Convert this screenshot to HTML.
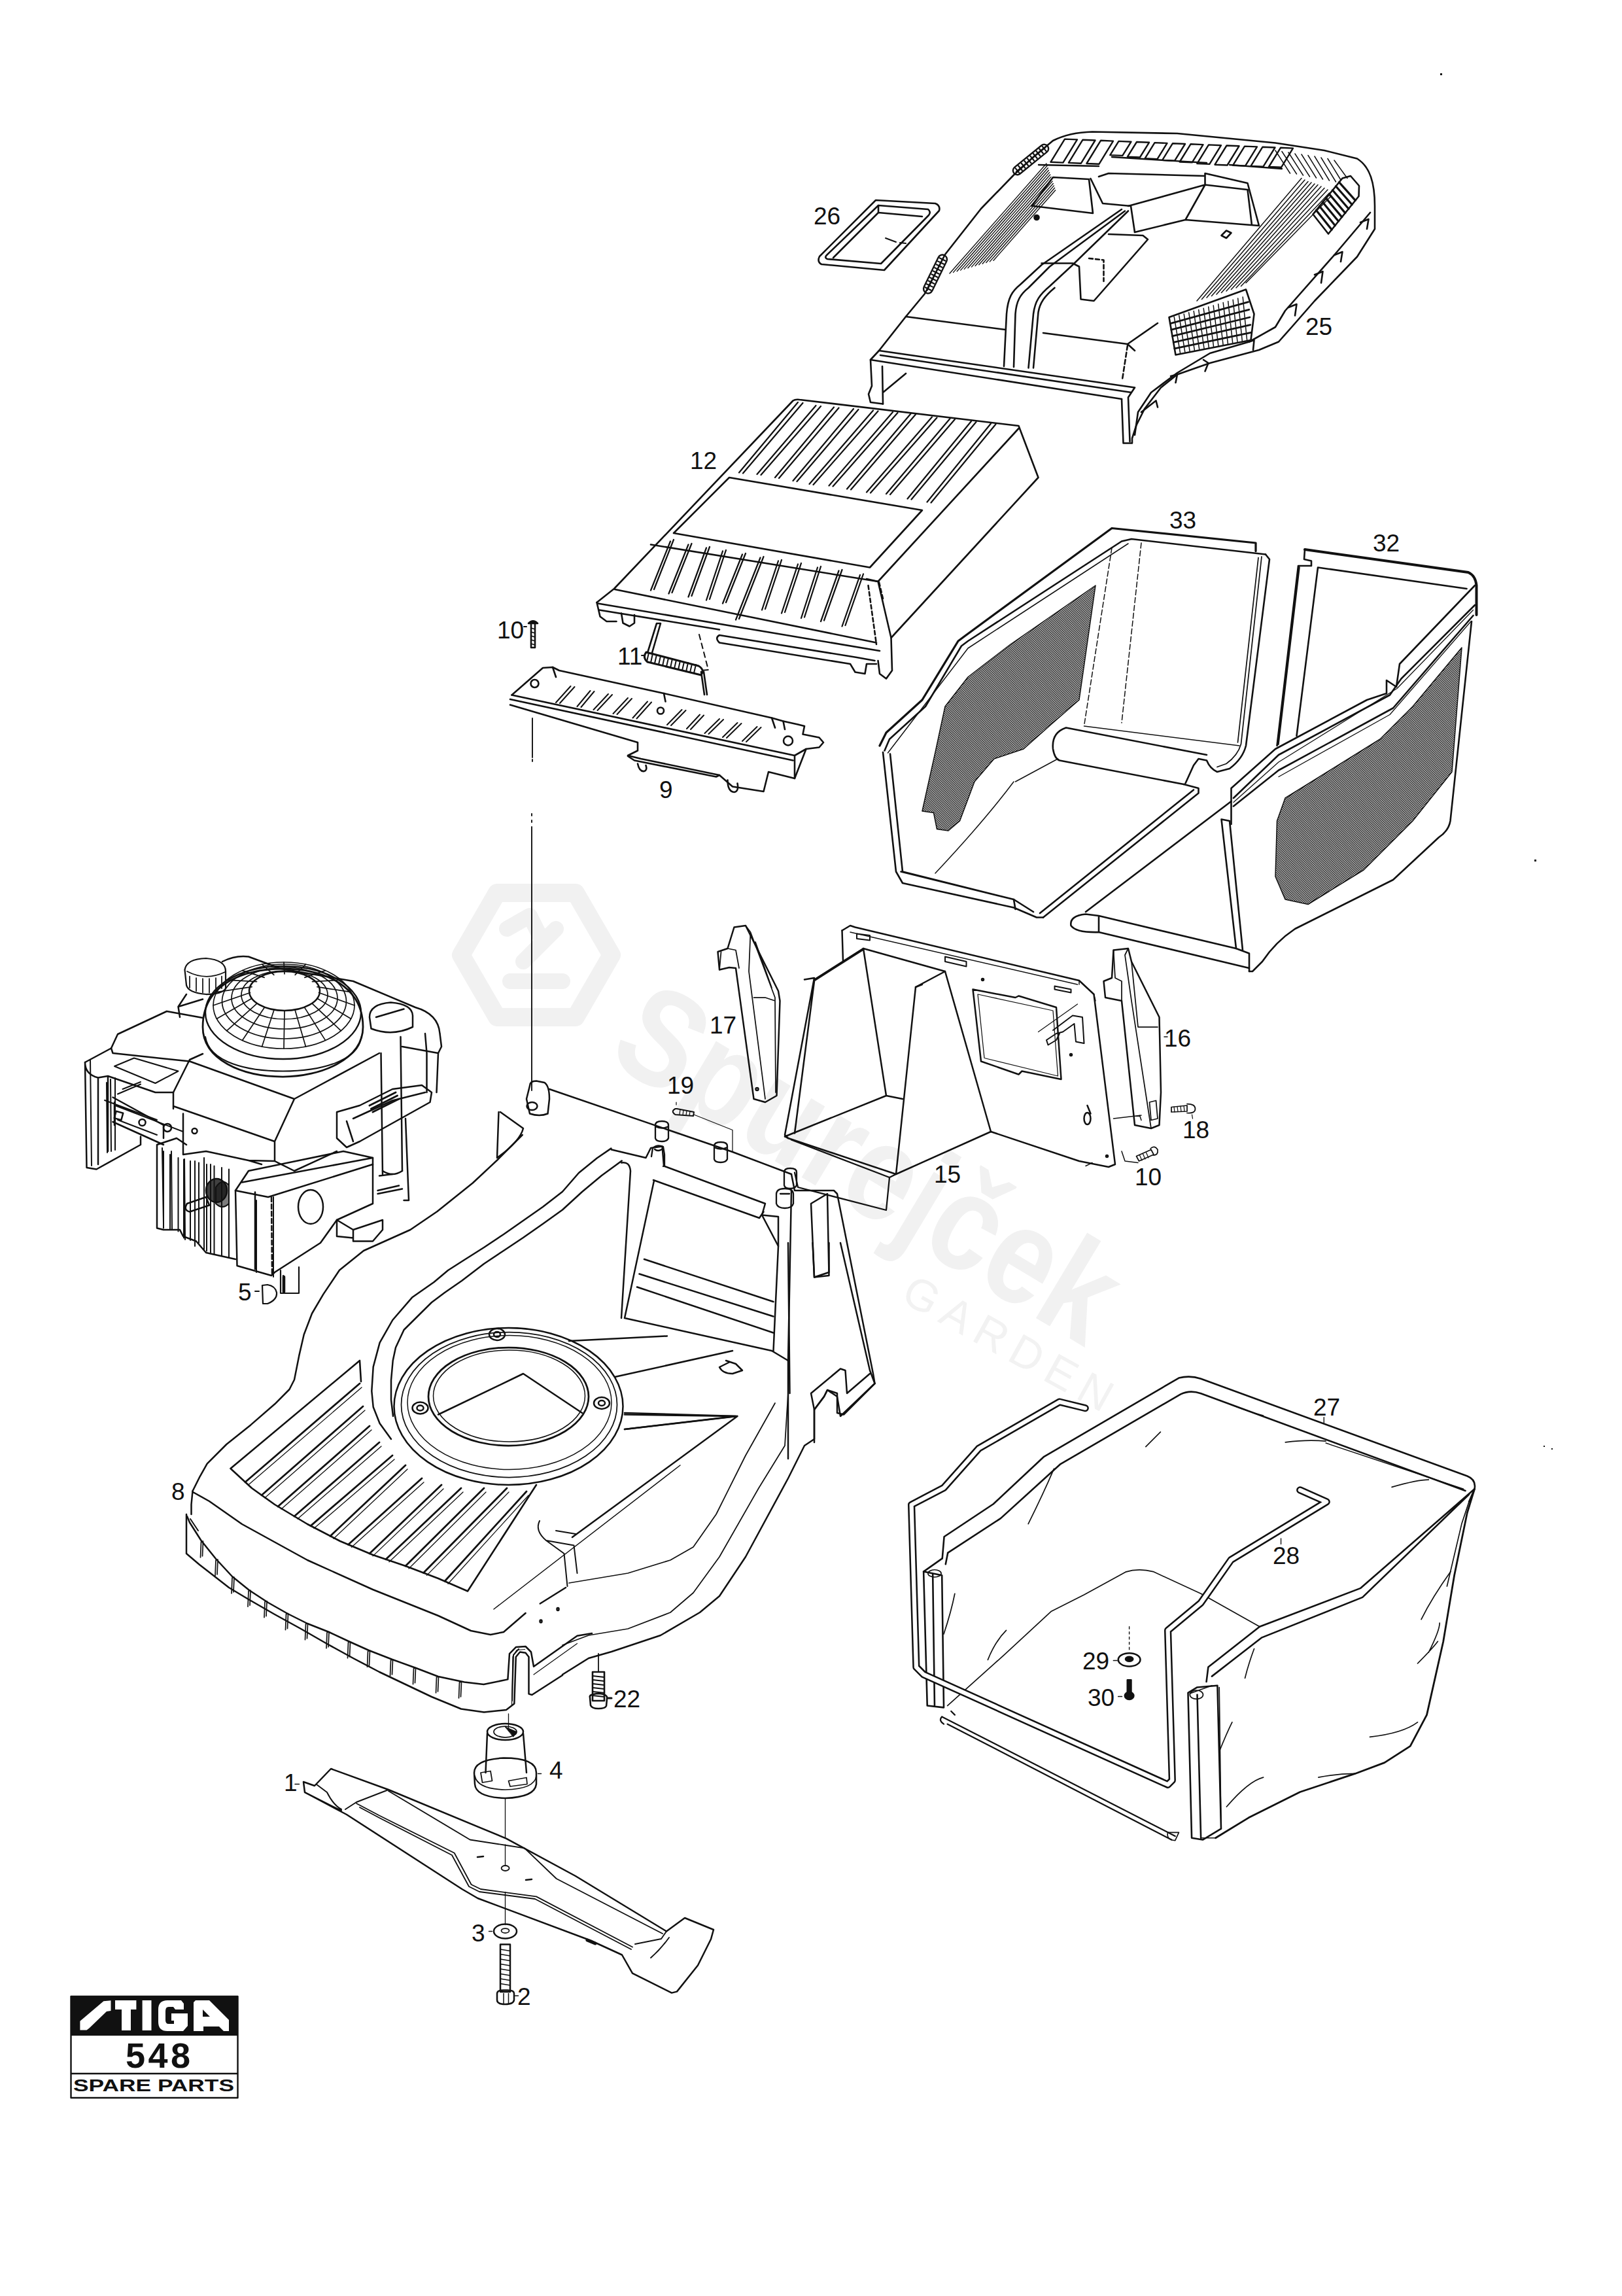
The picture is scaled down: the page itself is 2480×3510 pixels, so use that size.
<!DOCTYPE html>
<html><head><meta charset="utf-8"><style>
html,body{margin:0;padding:0;background:#fff;}
body{width:2480px;height:3510px;overflow:hidden;position:relative;}
svg{position:absolute;left:0;top:0;}
.t{font-family:"Liberation Sans",sans-serif;font-size:37px;fill:#111;}
</style></head><body>
<svg width="2480" height="3510" viewBox="0 0 2480 3510">

<!-- WATERMARK -->
<g id="wm" fill="none" stroke="#f1f1f1" stroke-width="28" stroke-linejoin="round" stroke-linecap="round">
<path d="M760,1365 L880,1365 L935,1460 L880,1555 L760,1555 L705,1460 Z"/>
<path d="M775,1420 L810,1400 L830,1440 M800,1470 L850,1420 M780,1500 L860,1500" stroke-width="24"/>
</g>
<text x="0" y="0" transform="translate(925,1619) rotate(31)" textLength="856" lengthAdjust="spacingAndGlyphs" style="font-family:'Liberation Sans',sans-serif;font-weight:bold;font-size:210px" fill="#f1f1f1">Spurejček</text>
<text x="0" y="0" transform="translate(1375,1988) rotate(29)" style="font-family:'Liberation Sans',sans-serif;font-size:68px;letter-spacing:12.8px" fill="#f2f2f2">GARDEN</text>
<defs>
<pattern id="mesh" patternUnits="userSpaceOnUse" width="4.4" height="4.4" patternTransform="rotate(-38)">
<rect width="4.4" height="4.4" fill="#fff"/><rect width="4.4" height="2.6" fill="#111"/>
</pattern>
<pattern id="mesh2" patternUnits="userSpaceOnUse" width="4.4" height="4.4" patternTransform="rotate(-55)">
<rect width="4.4" height="4.4" fill="#fff"/><rect width="4.4" height="2.1" fill="#111"/>
</pattern>
</defs>
<g fill="none" stroke="#111" stroke-width="2.6" stroke-linejoin="round" stroke-linecap="round">
<!-- COVER 25 (T1 coords) -->
<g id="cover" transform="translate(1300,150) scale(0.5)" stroke-width="5.2">
<path d="M100,935 L62,930 L56,905 L66,880 L62,800 L88,772 L170,668 L228,598 L290,478 L400,338 L500,235 L560,180 L620,130 C660,110 700,104 740,103 L1000,108 L1300,137 L1450,160 L1550,185 C1590,210 1604,260 1604,330 L1604,400 L1550,485 L1420,620 L1350,700 L1310,745 L1250,770 L1100,810 L1000,845 L950,885 L900,950 L875,1000 L862,1040 L862,1055 L835,1055 L830,920"/>
<path d="M62,800 L830,920 M88,772 L870,885 M92,786 L860,900 M100,935 L98,820 M100,900 L170,842 M855,1050 L850,915 M870,885 L850,915"/>
<path d="M170,668 L475,708 M590,718 L848,752 L870,772 M848,752 L940,688"/>
<path d="M848,756 L832,860" stroke-dasharray="14 8"/>
<path d="M470,820 L478,660 C482,610 495,590 520,570 L585,510 L830,340 M500,822 L505,660 C508,620 520,600 545,580 L610,515 L840,345 M545,825 L560,660 C565,620 580,600 610,575 L680,510 L850,345 M560,825 L575,655 C580,625 595,605 625,580"/>
<path d="M585,505 L680,505 L700,515 L705,615 L745,620 L910,432 L895,420 L790,416"/>
<path d="M730,490 L775,495 L775,560" stroke-dasharray="12 8"/>
<path d="M555,330 L620,242 L730,248 L742,352 M735,246 L772,322 L858,330 L870,410 M560,330 L742,352"/>
<path d="M760,240 L790,230 L1085,238 M850,330 L1085,265 M1085,230 L1215,260 L1250,390 L1025,372 L870,410 M1085,230 L1085,265 L1215,280 L1228,388 M1085,265 L1025,372"/>
<!-- right slope hatch -->
<path stroke-width="3" d="M1060,620 L1380,245 M1075,615 L1390,250 M1090,610 L1400,255 M1105,605 L1410,258 M1120,600 L1420,262 M1135,595 L1430,265 M1150,590 L1440,270 M1165,585 L1450,275 M1180,580 L1460,280 M1195,575 L1465,290 M1210,565 L1470,300"/>
<path stroke-width="3" d="M1300,160 L1345,230 M1320,163 L1365,232 M1340,166 L1385,236 M1360,170 L1405,240 M1380,172 L1425,244 M1400,175 L1445,248 M1420,178 L1465,252 M1440,182 L1485,256 M1460,185 L1500,250 M1480,190 L1520,245"/>
<!-- vents -->
<!-- skirt notches -->
<path d="M1590,350 L1480,480 L1330,650 L1300,700 L1220,745 L1100,780 L1000,840 L920,900 L880,960 L870,1030"/>
<path d="M1560,380 L1585,370 L1580,400 M1480,480 L1505,470 L1500,500 M1420,540 L1445,530 L1440,565 M1340,640 L1365,630 L1360,665 M1220,745 L1235,740 L1232,770 M1080,800 L1095,810 L1085,835 M980,850 L1000,845 L995,870 M890,960 L935,925 L940,945"/>
<circle cx="570" cy="365" r="7" fill="#111"/>
<path d="M1135,420 L1150,405 L1165,412 L1150,428 Z"/>
</g>

<!-- PART 12, 11, 10, 9 (T2 coords) -->
<g id="p12" transform="translate(780,590) scale(0.5)" stroke-width="5.2">
<path d="M265,662 L318,620 L865,45 Q872,40 885,42 L1555,122 L1615,280 L1165,770 L1168,870 L1150,895 L1130,880 L1125,840"/>
<path d="M1555,130 L1125,598 L1090,590 M1125,598 L1165,770"/>
<path d="M1095,610 L1120,790 M1128,600 L1140,650" stroke-dasharray="12 8"/>
<path d="M670,280 L1260,380 L1100,555 L500,450 Z"/>
<path d="M430,485 L1125,598 M320,622 L1120,785 M268,665 L1130,810 M272,685 L640,745"/>
<path d="M265,662 L275,705 L295,720 L325,720 M340,695 L345,725 L365,735 L380,725 L380,700"/>
<path d="M640,762 Q625,770 640,785 L1040,850 L1055,875 L1085,880 L1090,850 L1120,850 M640,762 L1060,830 L1115,840"/>
<path stroke-width="4.5" d="M490,475 L430,625 M500,470 L440,622 M545,485 L485,635 M555,482 L495,632 M600,495 L545,645 M610,492 L555,642 M650,505 L600,655 M660,502 L610,652 M710,515 L650,665 M720,512 L660,662 M765,525 L690,715 M775,522 L700,712 M820,535 L770,685 M830,532 L780,682 M880,545 L830,695 M890,542 L840,692 M940,555 L890,710 M950,552 L900,707 M1005,565 L950,720 M1015,562 L960,717 M1070,578 L1015,735 M1080,575 L1025,732"/>
<path stroke-width="4.5" d="M880,50 L700,265 M895,52 L712,267 M935,60 L755,270 M950,62 L767,272 M990,65 L810,280 M1005,67 L822,282 M1050,70 L865,290 M1065,72 L877,292 M1110,75 L915,300 M1125,77 L927,302 M1170,80 L975,305 M1185,82 L987,307 M1225,85 L1030,315 M1240,87 L1042,317 M1290,95 L1090,325 M1305,97 L1102,327 M1345,100 L1150,330 M1360,102 L1162,332 M1410,108 L1215,345 M1425,110 L1227,347 M1470,115 L1275,355 M1485,117 L1287,357"/>
</g>
<!-- spring 11 -->
<g id="p11">
<path d="M990,998 L1004,953 L1010,953 L997,998"/>
<path d="M988,997 L1068,1018 Q1078,1024 1072,1032 L990,1012 Q982,1005 988,997 Z" stroke-width="3"/>
<path stroke-width="2" d="M992,998 L989,1011 M998,999 L995,1013 M1004,1001 L1001,1014 M1010,1003 L1007,1016 M1016,1004 L1013,1018 M1022,1006 L1019,1019 M1028,1007 L1025,1021 M1034,1009 L1031,1022 M1040,1010 L1037,1024 M1046,1012 L1043,1025 M1052,1013 L1049,1027 M1058,1015 L1055,1028 M1064,1016 L1061,1029"/>
<path d="M1072,1027 L1077,1062 M1076,1027 L1081,1062"/>
<path d="M1069,970 L1083,1024 L1070,1025" stroke-dasharray="8 6" stroke-width="2"/>
<path d="M981,1002 L985,1002" stroke-width="2"/>
</g>
<!-- screw 10 -->
<g id="p10">
<path d="M808,953 Q815,946 822,953 L808,953 Z" fill="#111"/>
<path d="M812,954 L812,990 L818,990 L818,954"/>
<path d="M812,960 L818,962 M812,966 L818,968 M812,972 L818,974 M812,978 L818,980 M812,984 L818,986" stroke-width="1.8"/>
<path d="M801,958 L805,958" stroke-width="2"/>
</g>
<!-- bracket 9 (T2 coords) -->
<g id="p9" transform="translate(780,590) scale(0.5)" stroke-width="5.2">
<path d="M5,945 L100,862 L130,860 L150,870 L470,940 L800,1015 L835,1025 L880,1035 L900,1040 L895,1065 L945,1075 L958,1090 L945,1105 L905,1110 L870,1200 L790,1180 L775,1240 L680,1225 L640,1190 L400,1140 L360,1130 L390,1115 L390,1090 L0,975"/>
<path d="M5,945 L870,1130 L870,1200 M0,958 L865,1145 M870,1130 L905,1110 M130,860 L140,890 M800,1015 L810,1045 M835,1025 L840,1050 M470,940 L475,965"/>
<path d="M360,1132 L380,1145 L630,1195 L640,1190"/>
<path d="M390,1155 Q395,1180 410,1178 Q420,1175 415,1160 M665,1205 Q665,1240 685,1242 Q700,1240 695,1215"/>
<circle cx="75" cy="910" r="12"/>
<circle cx="850" cy="1085" r="14"/>
<circle cx="460" cy="993" r="10"/>
<path stroke-width="4" d="M140,968 L185,918 M152,970 L197,920 M205,980 L245,932 M217,982 L257,934 M255,990 L300,942 M267,992 L312,944 M315,1002 L360,954 M327,1004 L372,956 M375,1015 L420,965 M387,1017 L432,967 M480,1036 L525,990 M492,1038 L537,992 M540,1048 L580,1005 M552,1050 L592,1007 M595,1062 L640,1018 M607,1064 L652,1020 M650,1074 L695,1030 M662,1076 L707,1032 M710,1086 L755,1042 M722,1088 L767,1044"/>
</g>
<path d="M814,1098 L814,1158 M814,1161 L814,1164 M813,1244 L813,1247 M813,1254 L813,1257 M813,1264 L813,1667" stroke-width="1.9"/>


<!-- BAGS 33 & 32 (T3 coords) -->
<g id="bags" transform="translate(1330,780) scale(0.5)" stroke-width="5.2">
<path d="M690,230 L640,580 L560,650 L470,730 L380,760 L320,830 L275,950 L240,980 L205,975 L195,925 L160,920 L200,740 L230,600 L300,510 L430,410 L560,320 Z" fill="url(#mesh)" stroke-width="3"/>
<path d="M1270,880 L1560,700 L1660,600 L1810,420 L1780,800 L1660,950 L1510,1100 L1340,1205 L1270,1190 L1240,1120 L1245,950 Z" fill="url(#mesh)" stroke-width="3"/>
<path d="M30,720 L50,680 L160,580 L270,400 L290,385 L740,55 L1180,100 L1180,125" stroke-width="6.5"/>
<path d="M45,735 L60,700 L170,600 L280,415 L300,400 L770,95 L800,88 L1210,135"/>
<path d="M55,742 L300,422 L790,102" stroke-width="3"/>
<path d="M1210,135 L1222,150 L1150,720 Q1140,760 1100,790 L1062,800 Q1040,790 1030,765 L1005,760 L990,780 L965,835"/>
<path d="M1198,142 L1135,715 Q1125,750 1090,775 L1062,785 M1188,145 L1125,710" stroke-width="3.5"/>
<path d="M740,115 L655,660 M830,100 L770,650" stroke-dasharray="16 8" stroke-width="3"/>
<path d="M655,660 L1130,720" stroke-width="3"/>
<path d="M600,665 L1030,748 M580,765 L960,838 M600,665 Q555,680 560,730 Q565,760 580,765"/>
<path d="M575,760 L445,830 M200,1110 Q350,950 440,830" stroke-width="3"/>
<path d="M960,838 L1005,850 L1005,865 L530,1245 M990,855 L520,1232"/>
<path d="M40,740 L80,1105 L100,1140 L440,1215 L510,1245 L530,1245 M62,745 L100,1105 L440,1190 L500,1228 M95,1105 L440,1190"/>
<path d="M440,1190 L445,1220"/>
<!-- bag 32 -->
<path d="M1330,120 L1830,190 Q1852,200 1855,230 L1855,320" stroke-width="8"/>
<path d="M1330,120 L1328,150 L1350,155 L1350,170 L1310,170 L1245,720 M1370,175 L1305,690 M1370,175 L1825,240"/>
<path d="M1312,175 L1248,715" stroke-width="7"/>
<path d="M1850,230 L1620,470 L1610,540 L1580,520 L1580,560 L1520,580 L1240,730 L1105,850 L1105,960"/>
<path d="M1850,290 L1625,515 L1590,565 L1250,748 L1112,880 M1845,322 L1600,605 L1250,795 L1112,905"/>
<path d="M1845,305 L1612,545 L1250,770 L1112,893 M1838,340 L1590,625 L1250,815" stroke-width="2.6"/>
<path d="M1840,340 L1775,950 Q1770,980 1740,1000 L1600,1130 L1300,1280 Q1240,1320 1200,1380 L1170,1410 L1160,1410"/>
<path d="M1075,945 L1120,1340 L1160,1355 L1160,1410 M1100,950 L1140,1345 M1075,945 L1100,950"/>
<path d="M660,1235 L700,1240 L1120,1340 M700,1290 L1160,1400 M660,1235 Q610,1240 615,1270 Q630,1292 700,1290 M700,1240 L700,1290"/>
<path d="M660,1228 L1105,890"/>
</g>


<!-- ENGINE (T5 coords) -->
<g id="engine" transform="translate(100,1350) scale(0.5)" stroke-width="5">
<path d="M60,548 L140,505 L160,462 L310,392 L420,412"/>
<path d="M60,548 L65,870 L95,875 L230,800 L230,775 M60,548 Q60,585 100,595 L130,590 L275,640 L330,640 M100,595 L100,860 M130,590 L130,820"/>
<path d="M145,655 L300,740 L300,780 M145,730 L300,800 M150,670 L150,740 M140,505 L145,520 L380,545"/>
<path d="M150,560 L210,535 L345,575 L275,612 Z M175,630 L230,608 M160,645 L230,615" stroke-width="4"/>
<rect x="152" y="700" width="22" height="22" transform="rotate(15 163 711)"/>
<circle cx="235" cy="732" r="10"/><circle cx="312" cy="748" r="12"/><circle cx="395" cy="758" r="8"/>
<path d="M345,378 L370,340 M420,355 L345,378 L350,410"/>
<path d="M480,240 Q520,220 560,225 L660,262 L880,300 L1070,380 Q1140,400 1145,460 L1150,500 L1140,520 L1030,500"/>
<path d="M1105,520 L1105,640 M1140,520 L1135,640 M1100,460 L1105,520"/>
<path d="M420,440 C420,300 560,262 665,262 C800,262 910,320 910,440 C910,540 780,592 665,592 C540,592 420,540 420,440 Z" stroke-width="5.5"/>
<path d="M428,470 C440,550 560,575 665,575 C780,575 895,545 905,470" stroke-width="4"/>
<ellipse cx="670" cy="330" rx="108" ry="60" stroke-width="5"/>

<path d="M365,265 Q370,232 430,230 Q490,235 490,270 L490,322 Q480,340 430,340 Q375,335 370,312 Z" stroke-width="4.5"/>
<path d="M380,285 L380,320 M400,290 L400,330 M420,292 L420,335 M440,292 L440,335 M460,290 L460,330 M478,285 L478,322 M372,270 Q430,300 488,272" stroke-width="3.5"/>
<path d="M330,640 L380,540 L420,522 M380,545 L700,660 L960,520 M330,682 L640,790 L700,660 M640,790 L640,850 M330,640 L330,690"/>
<path d="M360,705 L360,830 L430,820 L560,848 L640,850 M640,850 L700,880 L830,820 M560,848 L600,860"/>
<path d="M830,700 L900,680 L1000,630 L1090,618 L1120,640 L1115,670 L900,790 L860,808 L830,780 Z M860,728 L880,790 M880,720 L1000,665 L1100,640"/>
<path d="M930,680 L1010,640 M935,690 L1015,650 M940,700 L1020,660" stroke-width="6"/>
<path d="M965,520 L970,890 M1025,470 L1030,880 M930,410 Q930,370 995,365 Q1060,370 1062,405 L1062,440 Q1000,470 935,445 Z M950,410 L1035,385" stroke-width="5"/>
<path d="M1040,720 L1050,970 L1035,970 M970,880 Q1000,900 1030,880"/>
<path d="M280,800 L280,1055 L300,1060 L350,1060 L360,1080 L400,1095 L430,1130 L520,1150 M280,800 L340,780 L370,800"/>
<path d="M300,820 L300,1055 M320,830 L320,1060 M345,840 L345,1065 M362,845 L362,1085 M382,850 L382,1092 M408,855 L408,1100 M432,860 L432,1125 M455,865 L455,1135 M478,870 L478,1140 M500,875 L500,1145" stroke-width="4"/>
<path d="M372,980 L430,960 L440,985 L380,1005 Q360,1000 372,980 Z"/>
<ellipse cx="462" cy="940" rx="32" ry="36" fill="#111" fill-opacity="0.8"/>
<path d="M520,940 L525,1170 L630,1200 L640,1190 L780,1100 L830,1030 L940,980 L940,840 L850,820 L560,880 L520,940 Z"/>
<path d="M580,945 L580,1180 M520,940 L620,960 L940,860 M540,915 L940,840"/>
<path d="M630,960 L632,1198" stroke-dasharray="14 8"/>
<ellipse cx="750" cy="990" rx="38" ry="52"/>
<path d="M830,1030 L830,1080 L880,1085 L880,1095 L940,1095 L970,1060 L970,1030 M880,1060 L970,1030 M830,1030 L880,1060 L880,1085"/>
<path d="M955,940 L1020,925 M955,950 L1030,935 M960,895 L1000,890"/>

</g>


<g id="domegrid" fill="none" stroke="#111" stroke-width="1.7">
<ellipse cx="435" cy="1521" rx="66" ry="37"/>
<ellipse cx="435" cy="1526" rx="81" ry="47"/>
<ellipse cx="434.5" cy="1531" rx="95" ry="57"/>
<ellipse cx="434" cy="1537" rx="108" ry="66"/>
<ellipse cx="433" cy="1548" rx="119" ry="71" stroke-width="2.4"/>
<path d="M487.5,1517.5 L542.0,1537.0 M484.9,1526.3 L536.7,1557.4 M477.5,1534.3 L521.4,1575.8 M465.9,1540.6 L497.5,1590.4 M451.2,1544.6 L467.4,1599.8 M435.0,1546.0 L434.0,1603.0 M418.8,1544.6 L400.6,1599.8 M404.1,1540.6 L370.5,1590.4 M392.5,1534.3 L346.6,1575.8 M385.1,1526.3 L331.3,1557.4 M382.5,1517.5 L326.0,1537.0 M385.1,1508.7 L331.3,1516.6 M392.5,1500.7 L346.6,1498.2 M404.1,1494.4 L370.5,1483.6 M418.8,1490.4 L400.6,1474.2 M435.0,1489.0 L434.0,1471.0 M451.2,1490.4 L467.4,1474.2 M465.9,1494.4 L497.5,1483.6 M477.5,1500.7 L521.4,1498.2 M484.9,1508.7 L536.7,1516.6"/>
</g>

<!-- engine refinements (src) -->
<g id="eng2" stroke-width="2.2">
<path d="M429,1942 L429,1977 L457,1977 L457,1937 M433,1950 L433,1976" />
<path d="M434,1952 L434,1975" stroke-width="4.5"/>
<path d="M401,1965 L402,1993 L409,1993 Q424,1987 423,1976 Q421,1966 409,1964 Z"/>
<path d="M390,1974 L396,1974" stroke-width="2"/>
<path d="M138,1620 L140,1782 M163,1655 L164,1762 M169,1650 L170,1760 M176,1648 L176,1758" stroke-width="2"/>
<path d="M160,1682 L240,1712 M176,1690 L280,1730 M180,1712 L240,1735" stroke-width="2"/>
<path d="M248,1755 L250,1870 M262,1760 L263,1880 M282,1772 L283,1895 M298,1775 L298,1905 M312,1770 L312,1910 M322,1780 L322,1915" stroke-width="2"/>
<path d="M330,1815 Q340,1800 350,1812 L350,1840 Q340,1850 330,1840 Z" fill="#111" fill-opacity="0.55" stroke-width="2"/>
<path d="M392,1835 L392,1945 M418,1830 L418,1952" stroke-width="2"/>
</g>
<!-- DECK 8 -->
<g id="deckT6" transform="translate(560,1580) scale(0.5)" stroke-width="5">
<path d="M500,160 Q500,145 520,145 L545,150 Q560,160 560,200 L555,245 Q530,255 500,245 L490,200 Z"/>
<ellipse cx="507" cy="222" rx="16" ry="12"/>
<path d="M560,170 L1120,362 L1300,430"/>
<path d="M410,240 L480,290 Q470,330 400,380 L405,240"/>
<path d="M750,355 L855,380 L870,350 L905,345 L910,405 L1220,520 L1210,555 L1260,650 L1245,970"/>
<path d="M780,395 Q805,390 808,420 L780,870"/>
<path d="M878,448 L1202,564 L1215,545 M880,450 L790,870 M790,870 L1240,970 M850,690 L1245,820 M835,735 L1245,865 M828,775 L1245,915"/>
<ellipse cx="435" cy="1140" rx="350" ry="240"/>
<ellipse cx="437" cy="1135" rx="330" ry="222" stroke-width="3.5"/>
<ellipse cx="438" cy="1128" rx="312" ry="205" stroke-width="3"/>
<ellipse cx="435" cy="1110" rx="245" ry="150" stroke-width="5.5"/>
<ellipse cx="437" cy="1108" rx="232" ry="140" stroke-width="3"/>
<ellipse cx="400" cy="920" rx="24" ry="18"/><ellipse cx="400" cy="920" rx="10" ry="8"/>
<ellipse cx="165" cy="1145" rx="24" ry="18"/><ellipse cx="165" cy="1145" rx="10" ry="8"/>
<ellipse cx="720" cy="1130" rx="24" ry="18"/><ellipse cx="720" cy="1130" rx="10" ry="8"/>
<path d="M220,1165 L480,1040 L660,1160"/>
<path d="M790,1165 L1130,1170 L790,1210 M760,1050 L1120,970 M620,940 L920,925"/>
<path d="M1300,430 L1310,480 L1430,480 L1440,490 L1550,1040 L1555,1070 L1460,1165 L1440,1160 L1440,1100 L1410,1090 L1400,1110 L1370,1150 L1370,1250"/>
<path d="M1300,480 L1290,1000 L1290,1300 M1360,520 L1410,490 L1415,740 L1370,745 Z M1210,555 L1260,560 L1260,650"/>
<path d="M1290,1000 L1240,970 M1100,1000 L1130,1010 L1150,1030 L1120,1040 Q1090,1040 1080,1020 L1110,1005"/>
</g>
<g id="deckT8" transform="translate(260,1640) scale(0.5)" stroke-width="5">



</g>
<g id="deckT9" transform="translate(260,2240) scale(0.5)" stroke-width="5">



<path d="M1045,735 L1048,585 L1060,565 L1085,563 M1112,640 L1245,545" stroke-width="2.5"/>

<path d="M1130,170 Q1115,200 1150,230 L1205,270 L1215,370 M1150,230 L1235,245 L1245,330 M1180,200 L1240,210" stroke-width="4"/>
<path d="M990,440 L1560,0" stroke-width="3"/>
<ellipse cx="1186" cy="440" rx="3" ry="4"/><ellipse cx="1134" cy="477" rx="3" ry="4"/>
</g>
<g id="deckT10" transform="translate(860,1900) scale(0.5)" stroke-width="5">
<path d="M955,430 L850,530 L840,470 L810,450 L800,470 L770,510 L770,600 L740,620 L690,720 L560,960 L480,1080 L420,1130 L300,1200 L150,1250 L80,1270 L0,1320"/>
<path d="M690,460 L680,620 L600,750 L480,960 L400,1070 L330,1130 L200,1180 L80,1200 L0,1230" stroke-width="3.5"/>
<path d="M650,490 L560,650 L470,830 L400,930 L330,970 L200,1010 L20,1040" stroke-width="3.5"/>
<path d="M690,0 L695,460 M850,0 L940,390 L955,430"/>
<path d="M765,0 L770,105 L815,90 L815,0"/>
<path d="M770,510 L760,460 L850,385 L865,390 L870,460 L940,400"/>
<path d="M30,900 L535,530 M190,520 L535,530 L190,570"/>
</g>


<!-- PARTS 15,16,17,18,10b (T7 coords) -->
<g id="p15" transform="translate(1050,1380) scale(0.5)" stroke-width="5">
<path d="M475,85 L500,70 L515,75 L1200,238 L1245,280 L1310,800 L1290,808 L1200,790 L930,700"/>
<path d="M475,85 L478,180 M392,234 L540,140 L790,210 L700,258 L640,830 L620,840"/>
<path d="M392,236 L540,142" stroke-width="7"/>
<path d="M540,140 L610,590 L660,600 M790,210 L930,700 M610,590 L300,715 M700,258 L720,250"/>
<path d="M360,235 L390,230 L300,710 L310,720 L640,830 L930,700 M390,240 L330,705"/>
<path d="M300,715 L310,720 M320,725 L620,840 L610,940 L340,870 L330,825" stroke-width="4.5"/>
<path d="M500,90 L1195,250 M1245,280 L1250,300 M1200,238 L1200,250" stroke-width="3"/>
<path d="M875,265 L1005,290 L1015,285 L1130,320 L1145,540 L1025,515 L1015,525 L900,485 Z"/>
<path d="M890,280 L1120,330 L1135,530 L910,475 Z" stroke-width="2.5"/>
<path d="M1120,390 L1180,345 L1210,350 L1215,430 L1190,425 L1185,370 L1150,395 L1130,400 L1100,420 L1105,435 L1130,420 L1140,400" stroke-width="4"/>
<path d="M1075,395 L1195,310" stroke-width="2.5"/>
<path d="M520,95 L560,100 L560,115 L520,110 Z M790,165 L855,180 L855,195 L790,180 Z M1125,255 L1175,265 L1175,275 L1125,265 Z" stroke-width="4"/>
<ellipse cx="1225" cy="660" rx="10" ry="18"/><path d="M1225,620 L1235,645"/>
<circle cx="905" cy="235" r="3"/><circle cx="1175" cy="465" r="3"/><circle cx="1285" cy="775" r="3"/>
<path d="M1240,795 L1220,805" stroke-width="3"/>
<!-- part 17 -->
<path d="M145,75 L180,70 L280,270 L285,300 L275,590 L240,610 L205,600 L150,200 L130,198 L100,205 L95,150 L125,140 L145,75 Z"/>
<path d="M180,70 L195,90 L190,210 L240,600 M195,90 L270,290 L272,580 M205,290 L240,290 L270,300 M210,120 L260,260" stroke-width="3.5"/>
<path d="M125,140 L150,145 L160,200 M100,205 L105,150" stroke-width="3.5"/>
<circle cx="215" cy="570" r="4"/>
<!-- part 16 -->
<path d="M1305,145 L1350,140 L1360,180 L1445,350 L1450,580 L1445,680 L1420,690 L1370,680 L1330,300 L1280,290 L1275,240 L1300,230 Z"/>
<path d="M1350,140 L1340,160 L1360,300 L1420,690 M1305,145 L1310,230 L1330,240 L1330,300 M1360,180 L1380,380 L1440,380" stroke-width="3.5"/>
<path d="M1415,610 L1435,605 L1440,660 L1420,665 Z" stroke-width="3.5"/>
<path d="M1305,660 L1390,650 M1385,650 L1390,665" stroke-width="3"/>
<path d="M1460,410 L1470,410" stroke-width="3"/>
<!-- screw 18 -->
<path d="M1482,625 L1530,620 L1530,638 L1482,640 Z M1530,615 Q1555,615 1555,630 Q1555,645 1530,643" stroke-width="3.5"/>
<path d="M1490,624 L1492,640 M1500,623 L1502,639 M1510,622 L1512,638 M1520,621 L1522,637" stroke-width="2.5"/>
<path d="M1545,648 L1547,660" stroke-width="2.5"/>
<!-- screw 10b -->
<path d="M1375,775 L1420,755 L1428,770 L1383,790 Z M1418,752 Q1430,740 1440,755 Q1442,772 1428,772" stroke-width="3.5"/>
<path d="M1385,772 L1392,788 M1395,768 L1402,784 M1405,764 L1412,780" stroke-width="2.5"/>
<path d="M1330,760 L1340,790 L1380,795" stroke-width="3"/>
</g>
<!-- screw 19 -->
<g transform="translate(560,1580) scale(0.5)" stroke-width="4">
<path d="M945,230 Q930,238 945,248 L1000,252 L1002,240 L950,230 Z"/>
<path d="M960,232 L958,248 M970,234 L968,249 M980,236 L978,250 M990,238 L988,251" stroke-width="2.5"/>
<path d="M1002,248 L1120,295 L1120,360" stroke-width="2.5"/>
<path d="M948,210 L948,218" stroke-width="2.5"/>
</g>



<!-- BLADE 1 (src coords) -->
<g id="blade1" stroke-width="2.5">
<path d="M464,2724 L481,2730 L506,2704 L594,2736 L774,2810.6 L880,2868 L1019,2952.5 L1047,2932 L1091,2950 L1087,2964.5 L1067,3004.5 L1035,3044.6 L1027,3046.6 L967,3016.6 L951,2988.5 L903,2966.5 L730.5,2902 L706.5,2888 L530,2774 L466,2740 Z"/>
<path d="M484,2728 L500,2740 Q510,2760 522,2766 M594,2736 L545,2755 L528,2766 M466,2740 L522,2768" stroke-width="2"/>
<path d="M545,2757 L580,2775.5 L694.7,2832.8 L720.6,2881 L735,2888 L820,2899.4 L967,2976.5 M550,2763 L580,2779 L691,2836 L717,2884 L733,2892 L818,2903 L965,2980" stroke-width="1.8"/>
<path d="M594,2738 L718.7,2812.5 L774,2821 L802,2825.4 L850.7,2872 L1013,2956 M1019,2952.5 L1011,2964 L971,2972 M995,2993 Q1010,2980 1023,2962" stroke-width="1.9"/>
<path d="M898,2966 L910,2971" stroke-width="5"/>
<ellipse cx="772.6" cy="2856" rx="6" ry="4" stroke-width="1.8"/>
<path d="M730,2839 L739,2838 M804,2874 L813,2873" stroke-width="2.5"/>
</g>
<!-- BLADE etc (T11 coords) -->
<g id="blade" transform="translate(420,2620) scale(0.5)" stroke-width="5">
<!-- bushing 4 -->
<path d="M650,60 L645,180 M760,60 L770,180"/>
<ellipse cx="705" cy="55" rx="55" ry="25"/>
<ellipse cx="705" cy="55" rx="35" ry="17" stroke-width="3.5"/>
<path d="M705,40 L740,55 L730,70 Z" fill="#111" stroke-width="2"/>
<path d="M610,180 Q610,140 700,135 Q800,135 800,180 L800,215 Q795,255 705,258 Q615,255 612,215 Z"/>
<path d="M612,190 Q620,230 705,232 Q795,230 800,190" stroke-width="3.5"/>
<path d="M630,180 L660,175 L665,205 L635,210 Z M715,205 L770,195 L772,215 L720,222 Z" stroke-width="3.5"/>
<path d="M715,0 L715,50 M705,258 L705,380 M705,400 L705,465 M705,545 L705,645" stroke-width="2.6"/>
<path d="M805,183 L815,183" stroke-width="3"/>
<!-- washer 3 -->
<ellipse cx="705" cy="665" rx="35" ry="22"/>
<ellipse cx="705" cy="663" rx="12" ry="7" stroke-width="3.5"/>
<path d="M655,665 L665,665" stroke-width="3"/>
<!-- bolt 2 -->
<path d="M690,705 L690,850 L720,850 L720,705 Z"/>
<path d="M690,720 L720,725 M690,735 L720,740 M690,750 L720,755 M690,765 L720,770 M690,780 L720,785 M690,795 L720,800 M690,810 L720,815 M690,825 L720,830" stroke-width="3"/>
<path d="M680,855 Q680,845 700,845 L712,845 Q732,845 732,855 L732,875 Q730,888 705,888 Q680,888 680,875 Z"/>
<path d="M700,855 L700,885 M715,855 L715,885" stroke-width="3"/>
<path d="M735,862 L745,862" stroke-width="3"/>
<path d="M62,215 L75,215" stroke-width="3"/>
</g>
<!-- screw 22 (source coords) -->
<g stroke-width="2.6">
<path d="M915,2528 L915,2555" stroke-width="1.8"/>
<path d="M906,2556 L924,2556 L924,2600 L906,2600 Z"/>
<path d="M906,2562 L924,2564 M906,2568 L924,2570 M906,2574 L924,2576 M906,2580 L924,2582 M906,2586 L924,2588 M906,2592 L924,2594" stroke-width="1.8"/>
<path d="M902,2595 Q900,2590 915,2589 Q930,2590 928,2597 L927,2608 Q925,2612 915,2612 Q905,2612 903,2607 Z"/>
<path d="M930,2596 L935,2596" stroke-width="3"/>
</g>
<!-- BAG 27 (T12 coords) -->
<g id="bag27" transform="translate(1370,2060) scale(0.5616)" stroke-width="4.6">
<path d="M126,574 L131,515 L265,426 L403,297 L770,83 Q800,75 830,85 L1555,350 Q1580,360 1575,385 L1560,420"/>
<path d="M141,559 L285,465 L448,317 L775,127 Q800,115 830,125 L1550,390"/>
<path d="M1575,385 L1265,655 L990,760 L850,870 L845,910 M1560,400 L1270,680 L995,790 L860,895"/>
<path d="M126,574 L75,610 M141,559 L135,590"/>
<path d="M75,610 L85,975 L130,980 L125,620 Z M100,615 L105,975"/>
<path d="M795,940 L805,1335 L835,1340 L885,1310 L875,920 L820,925 Z M820,945 L830,1335" />
<path d="M800,942 L860,920 M880,925 L885,1310" stroke-width="3"/>
<path d="M1575,385 L1555,450 L1520,620 L1490,800 L1445,1000 L1400,1085 L1330,1130 L1250,1160 L1100,1210 L960,1280 L870,1335" stroke-width="5"/>
<path d="M1560,420 L1540,480 L1500,650" stroke-width="3"/>
<path d="M140,975 L294,837 L423,718 L512,673 L625,611 Q660,600 700,610 L830,670 L990,760" stroke-width="3"/>
<path d="M1350,380 Q1420,360 1450,360 M1060,258 Q1120,250 1170,255 M720,230 Q700,250 680,270 M430,330 Q400,400 360,480 M1430,740 Q1460,680 1510,610 M1450,830 Q1480,770 1480,750 M1290,1060 Q1380,1050 1420,1020 M1150,1170 Q1200,1160 1250,1160 M900,1250 Q960,1180 1000,1170 M880,1100 Q900,1050 915,1020 M950,900 Q960,860 975,820 M1420,860 Q1460,820 1475,800 M250,850 Q270,800 300,770 M130,780 Q150,720 160,670" stroke-width="3"/>
<path d="M910,155 Q960,175 1000,185 M1170,260 L1545,385" stroke-width="2.5"/>
<path d="M125,1005 L760,1330 M140,1025 L750,1340 M125,1005 Q115,1015 130,1025 M150,990 L160,1000" stroke-width="4"/>
<path d="M740,1320 Q735,1340 760,1342 L770,1320 Z" stroke-width="3"/>
<ellipse cx="105" cy="615" rx="18" ry="10" stroke-width="3"/>
<ellipse cx="818" cy="945" rx="18" ry="12" stroke-width="3"/>
<path d="M830,1335 L870,1335" stroke-width="3"/>
</g>
<g id="wire28" transform="translate(1370,2060) scale(0.5616)">
<path d="M515,165 L445,148 L225,275 L130,382 L42,428 L55,870 L75,890 L740,1190 L752,1178 L740,770 L830,695 L912,578 L1172,420 L1100,388" stroke="#111" stroke-width="20" stroke-linejoin="round"/>
<path d="M515,165 L445,148 L225,275 L130,382 L42,428 L55,870 L75,890 L740,1190 L752,1178 L740,770 L830,695 L912,578 L1172,420 L1100,388" stroke="#fff" stroke-width="11" stroke-linejoin="round"/>
</g>
<g id="bag27b" transform="translate(1370,2060) scale(0.5616)" stroke-width="4.6">
<ellipse cx="635" cy="850" rx="30" ry="18"/>
<ellipse cx="635" cy="848" rx="10" ry="6" fill="#111"/>
<path d="M635,760 L635,828" stroke-dasharray="6 8" stroke-width="2.5"/>
<path d="M630,905 L640,905 L640,945 L630,945 Z" fill="#111"/>
<ellipse cx="635" cy="948" rx="12" ry="10" fill="#111"/>
<path d="M592,852 L602,852 M605,950 L615,950" stroke-width="3"/>
<path d="M1165,190 L1165,205 M1048,520 L1048,535" stroke-width="2.5"/>
</g>
<!-- STIGA LOGO -->
<g id="logo" stroke="none">
<rect x="108.5" y="3052" width="255" height="155" fill="none" stroke="#111" stroke-width="2.4"/>
<rect x="108.5" y="3052" width="255" height="60" fill="#111"/>
<path d="M109,3170 L363,3170" stroke="#111" stroke-width="2.4"/>
<path d="M122.4,3089.7 L158.4,3059.2 L169.5,3058.3 L169.5,3074 L163,3075 L136.2,3100.8 L132.5,3103.6 L122.4,3103.6 Z" fill="#fff"/>
<path d="M176,3058 L208.4,3058 L208.4,3072 L200,3072 L200,3104 L186,3104 L186,3072 L176,3072 Z" fill="#fff"/>
<rect x="217.6" y="3058" width="13.9" height="46" fill="#fff"/>
<path d="M256,3058 L277,3058 L281,3063 L281,3072 L268,3072 L265,3068 L258,3068 Q253,3068 253,3075 L253,3088 Q253,3094 258,3094 L266,3094 L266,3089 L262,3089 L262,3078 L287,3078 L287,3097 L280,3105 L256,3105 Q242,3105 242,3091 L242,3072 Q242,3058 256,3058 Z" fill="#fff"/>
<path d="M296,3061 L299,3058 L320,3058 L350,3088 L350,3105 L342,3105 L335,3098 L311,3098 L311,3105 L296,3105 Z M310,3072 L310,3083 L321,3083 Z" fill="#fff" fill-rule="evenodd"/>
</g>


<!-- deck posts (src) -->
<g id="posts" stroke-width="2.3">
<path d="M1002,1720 Q1002,1714 1012,1714 Q1022,1714 1022,1720 L1022,1740 Q1020,1745 1012,1745 Q1003,1745 1002,1740 Z M1002,1722 Q1012,1727 1022,1722"/>
<path d="M1092,1752 Q1092,1746 1102,1746 Q1112,1746 1112,1752 L1112,1772 Q1110,1777 1102,1777 Q1093,1777 1092,1772 Z M1092,1754 Q1102,1759 1112,1754"/>
<path d="M1199,1792 Q1199,1786 1208,1786 Q1218,1786 1218,1792 L1218,1812 Q1216,1817 1208,1817 Q1200,1817 1199,1812 Z"/>
<path d="M1187,1826 Q1187,1817 1200,1817 Q1213,1817 1213,1826 L1213,1840 Q1211,1847 1200,1847 Q1189,1847 1187,1840 Z M1193,1825 L1207,1825" />
<path d="M996,1768 L998,1755 Q1005,1749 1014,1753 L1016,1765 L1016,1782 L1014,1783 M1001,1757 Q1006,1761 1012,1757"/>
</g>

<path id="slots" stroke-width="2.4" d="M1628.0,212.6 L1647.0,213.4 L1625.4,248.6 L1606.4,247.8 Z M1655.5,213.7 L1674.5,214.5 L1652.9,249.7 L1633.9,248.9 Z M1683.0,214.8 L1702.0,215.6 L1680.4,250.8 L1661.4,250.0 Z M1710.5,215.9 L1729.5,216.7 L1716.3,237.9 L1697.3,237.1 Z M1738.0,217.0 L1757.0,217.8 L1742.9,240.5 L1723.9,239.7 Z M1765.5,218.1 L1784.5,218.9 L1769.5,243.1 L1750.5,242.3 Z M1793.0,219.2 L1812.0,220.0 L1796.1,245.7 L1777.1,244.9 Z M1820.5,220.3 L1839.5,221.1 L1822.7,248.3 L1803.7,247.5 Z M1848.0,221.4 L1867.0,222.2 L1849.3,250.9 L1830.3,250.1 Z M1875.5,222.5 L1894.5,223.3 L1876.5,252.5 L1857.5,251.7 Z M1903.0,223.6 L1922.0,224.4 L1904.0,253.6 L1885.0,252.8 Z M1930.5,224.7 L1949.5,225.5 L1931.5,254.7 L1912.5,253.9 Z M1958.0,225.8 L1977.0,226.6 L1959.0,255.8 L1940.0,255.0 Z"/>
<path stroke-width="2.4" d="M1588,252 L1680,254 M1700,240 L1845,249 M1880,252 L1960,258"/>
<path id="lhatch" stroke-width="1.4" d="M1452.0,418.0 L1600.0,250.0 M1457.6,416.4 L1601.1,253.4 M1463.2,414.7 L1602.3,256.8 M1468.7,413.1 L1603.4,260.2 M1474.3,411.4 L1604.6,263.6 M1479.9,409.8 L1605.7,267.0 M1485.5,408.1 L1606.9,270.4 M1491.1,406.5 L1608.0,273.8 M1496.7,404.8 L1609.1,277.1 M1502.2,403.2 L1610.3,280.5 M1507.8,401.5 L1611.4,283.9 M1513.4,399.9 L1612.6,287.3 M1519.0,398.2 L1613.7,290.7"/>
<g transform="translate(1430,419) rotate(-64)"><rect x="-32.0" y="-7.0" width="64" height="14" rx="7.0" stroke-width="2.4"/><path stroke-width="2.2" d="M-25.0,-5.0 L-25.0,5.0 M-19.4,-5.0 L-19.4,5.0 M-13.9,-5.0 L-13.9,5.0 M-8.3,-5.0 L-8.3,5.0 M-2.8,-5.0 L-2.8,5.0 M2.8,-5.0 L2.8,5.0 M8.3,-5.0 L8.3,5.0 M13.9,-5.0 L13.9,5.0 M19.4,-5.0 L19.4,5.0 M25.0,-5.0 L25.0,5.0"/><path stroke-width="1.6" d="M-28.0,0 L28.0,0"/></g>
<g transform="translate(1576,244) rotate(-39)"><rect x="-33.0" y="-6.5" width="66" height="13" rx="6.5" stroke-width="2.4"/><path stroke-width="2.2" d="M-26.5,-4.5 L-26.5,4.5 M-20.6,-4.5 L-20.6,4.5 M-14.7,-4.5 L-14.7,4.5 M-8.8,-4.5 L-8.8,4.5 M-2.9,-4.5 L-2.9,4.5 M2.9,-4.5 L2.9,4.5 M8.8,-4.5 L8.8,4.5 M14.7,-4.5 L14.7,4.5 M20.6,-4.5 L20.6,4.5 M26.5,-4.5 L26.5,4.5"/><path stroke-width="1.6" d="M-29.0,0 L29.0,0"/></g>
<path stroke-width="2.6" d="M1787.5,485.0 L1905.0,442.5 L1917.5,480.0 L1912.5,520.0 L1797.5,542.5 Z"/>
<path stroke-width="2.8" d="M1789.2,494.6 L1908.6,461.7 M1790.8,504.2 L1909.7,473.3 M1792.5,513.8 L1910.8,485.0 M1794.2,523.3 L1911.8,496.7 M1795.8,532.9 L1912.9,508.3"/>
<path stroke-width="1.5" d="M1795.2,484.3 L1796.4,491.1 M1802.7,482.1 L1803.9,489.0 M1810.2,479.9 L1811.3,486.9 M1817.7,477.8 L1818.8,484.8 M1825.2,475.6 L1826.3,482.8 M1832.7,473.4 L1833.7,480.7 M1840.2,471.3 L1841.2,478.6 M1847.7,469.1 L1848.7,476.5 M1855.2,466.9 L1856.1,474.5 M1862.7,464.8 L1863.6,472.4 M1870.2,462.6 L1871.1,470.3 M1877.7,460.4 L1878.5,468.2 M1885.2,458.3 L1886.0,466.1 M1892.7,456.1 L1893.5,464.1 M1900.2,453.9 L1901.0,462.0 M1796.9,494.0 L1798.0,500.8 M1804.3,491.9 L1805.4,498.8 M1811.8,489.9 L1812.9,496.9 M1819.2,487.9 L1820.3,494.9 M1826.7,485.8 L1827.7,493.0 M1834.2,483.8 L1835.2,491.0 M1841.6,481.8 L1842.6,489.1 M1849.1,479.7 L1850.0,487.2 M1856.5,477.7 L1857.5,485.2 M1864.0,475.6 L1864.9,483.3 M1871.5,473.6 L1872.3,481.3 M1878.9,471.6 L1879.8,479.4 M1886.4,469.5 L1887.2,477.4 M1893.8,467.5 L1894.6,475.5 M1901.3,465.5 L1902.1,473.5 M1798.5,503.7 L1799.6,510.5 M1805.9,501.8 L1807.0,508.7 M1813.3,499.9 L1814.4,506.9 M1820.8,498.0 L1821.8,505.0 M1828.2,496.1 L1829.2,503.2 M1835.6,494.2 L1836.6,501.4 M1843.0,492.3 L1844.0,499.6 M1850.5,490.3 L1851.4,497.8 M1857.9,488.4 L1858.8,496.0 M1865.3,486.5 L1866.2,494.1 M1872.7,484.6 L1873.6,492.3 M1880.1,482.7 L1881.0,490.5 M1887.6,480.8 L1888.4,488.7 M1895.0,478.9 L1895.8,486.9 M1902.4,477.0 L1903.2,485.1 M1800.1,513.4 L1801.3,520.2 M1807.5,511.6 L1808.6,518.5 M1814.9,509.9 L1816.0,516.8 M1822.3,508.1 L1823.4,515.2 M1829.7,506.3 L1830.7,513.5 M1837.1,504.5 L1838.1,511.8 M1844.4,502.7 L1845.4,510.1 M1851.8,501.0 L1852.8,508.4 M1859.2,499.2 L1860.2,506.7 M1866.6,497.4 L1867.5,505.0 M1874.0,495.6 L1874.9,503.3 M1881.4,493.9 L1882.2,501.7 M1888.8,492.1 L1889.6,500.0 M1896.1,490.3 L1897.0,498.3 M1903.5,488.5 L1904.3,496.6 M1801.8,523.1 L1802.9,529.9 M1809.1,521.5 L1810.2,528.4 M1816.5,519.8 L1817.6,526.8 M1823.8,518.2 L1824.9,525.3 M1831.2,516.5 L1832.2,523.7 M1838.5,514.9 L1839.5,522.1 M1845.9,513.2 L1846.8,520.6 M1853.2,511.6 L1854.2,519.0 M1860.6,509.9 L1861.5,517.5 M1867.9,508.3 L1868.8,515.9 M1875.3,506.7 L1876.1,514.4 M1882.6,505.0 L1883.5,512.8 M1889.9,503.4 L1890.8,511.3 M1897.3,501.7 L1898.1,509.7 M1904.6,500.1 L1905.4,508.1 M1803.4,532.8 L1804.5,539.6 M1810.7,531.3 L1811.8,538.2 M1818.0,529.8 L1819.1,536.8 M1825.3,528.3 L1826.4,535.4 M1832.6,526.8 L1833.7,533.9 M1840.0,525.3 L1841.0,532.5 M1847.3,523.7 L1848.3,531.1 M1854.6,522.2 L1855.5,529.7 M1861.9,520.7 L1862.8,528.2 M1869.2,519.2 L1870.1,526.8 M1876.5,517.7 L1877.4,525.4 M1883.8,516.2 L1884.7,524.0 M1891.1,514.6 L1892.0,522.5 M1898.5,513.1 L1899.3,521.1 M1905.8,511.6 L1906.6,519.7"/>
<path stroke-width="2.6" d="M2007.5,327.5 L2052.5,272.5 L2065.0,269.0 L2078.0,284.0 L2077.5,300.0 L2031.0,357.5 Z"/>
<path stroke-width="3.2" d="M2012.5,321.4 L2036.2,351.1 M2017.5,315.3 L2041.3,344.7 M2022.5,309.2 L2046.5,338.3 M2027.5,303.1 L2051.7,331.9 M2032.5,296.9 L2056.8,325.6 M2037.5,290.8 L2062.0,319.2 M2042.5,284.7 L2067.2,312.8 M2047.5,278.6 L2072.3,306.4"/>
<g id="front" stroke-width="2.5">
<path d="M294.5,2279.5 L292.5,2300.0 L292.5,2315.0 M295.0,2281.0 L320.0,2295.0 L370.0,2330.0 L470.0,2385.0 L570.0,2430.0 L670.0,2470.0 L720.0,2493.0 L750.0,2499.0 L770.0,2495.0 L803.6,2466.0 M825.8,2451.5 L865.0,2427.0"/>
<path d="M286.0,2318.0 L290.0,2327.5 L307.5,2355.0 L330.0,2383.0 L355.0,2410.0 L381.0,2431.0 L410.0,2450.0 L440.0,2467.0 L470.0,2482.0 L503.0,2495.0 L535.0,2510.0 L564.0,2523.0 L600.0,2537.0 L636.0,2550.0 L670.0,2563.0 L710.0,2571.5 L739.5,2575.0 L776.4,2567.4 L779.0,2528.0 L788.8,2518.0 L803.6,2517.0 L812.0,2525.5 L816.0,2547.7 L882.5,2500.8 L905.0,2497.0"/>
<path d="M285.0,2315.0 L285.0,2375.0 L305.0,2392.0 L325.0,2407.5 L350.0,2427.0 L380.0,2445.0 L420.0,2468.0 L460.0,2490.0 L500.0,2513.0 L540.0,2535.0 L580.0,2556.0 L620.0,2575.0 L660.0,2594.0 L705.0,2612.5 L740.0,2617.5 L774.0,2614.0 L786.3,2604.4 L788.8,2533.0 L795.0,2525.5 L803.6,2526.7 L808.5,2533.0 L808.5,2589.6 L813.4,2591.0 L860.0,2561.0"/>
<path stroke-width="2" d="M783,2600 L785,2530 L793,2521 M291,2322 L303,2340"/>
<path stroke-width="1.7" d="M310.5,2356.0 L307.5,2357.0 L306.5,2381.0 M310.5,2357.0 L309.5,2379.0 M333.0,2384.0 L330.0,2385.0 L329.0,2409.0 M333.0,2385.0 L332.0,2407.0 M358.0,2411.0 L355.0,2412.0 L354.0,2436.0 M358.0,2412.0 L357.0,2434.0 M383.0,2431.2 L380.0,2432.2 L379.0,2456.2 M383.0,2432.2 L382.0,2454.2 M408.0,2447.7 L405.0,2448.7 L404.0,2472.7 M408.0,2448.7 L407.0,2470.7 M440.5,2466.6 L437.5,2467.6 L436.5,2491.6 M440.5,2467.6 L439.5,2489.6 M470.5,2481.8 L467.5,2482.8 L466.5,2506.8 M470.5,2482.8 L469.5,2504.8 M503.0,2494.8 L500.0,2495.8 L499.0,2519.8 M503.0,2495.8 L502.0,2517.8 M535.5,2509.8 L532.5,2510.8 L531.5,2534.8 M535.5,2510.8 L534.5,2532.8 M565.5,2523.3 L562.5,2524.3 L561.5,2548.3 M565.5,2524.3 L564.5,2546.3 M600.5,2537.0 L597.5,2538.0 L596.5,2562.0 M600.5,2538.0 L599.5,2560.0 M635.5,2549.7 L632.5,2550.7 L631.5,2574.7 M635.5,2550.7 L634.5,2572.7 M670.5,2563.0 L667.5,2564.0 L666.5,2588.0 M670.5,2564.0 L669.5,2586.0 M705.5,2570.9 L702.5,2571.9 L701.5,2595.9 M705.5,2571.9 L704.5,2593.9"/>
</g>
<g id="ribs">
<path stroke-width="2.6" d="M352.5,2245.0 L385.0,2275.0 L420.0,2300.0 L470.0,2330.0 L520.0,2356.0 L570.0,2377.0 L620.0,2394.0 L670.0,2413.0 L715.0,2432.5 L820,2270 M352.5,2245 L550,2080 L552,2112"/>
<path stroke-width="2.8" d="M375.0,2265.8 L550.0,2115.0 M400.0,2285.7 L555.0,2150.0 M425.0,2303.0 L565.0,2180.0 M450.0,2318.0 L580.0,2205.0 M475.0,2332.6 L600.0,2225.0 M505.0,2348.2 L620.0,2240.0 M532.5,2361.2 L645.0,2260.0 M565.0,2374.9 L675.0,2270.0 M590.0,2383.8 L705.0,2275.0 M620.0,2394.0 L740.0,2275.0 M647.5,2404.4 L775.0,2275.0 M680.0,2417.3 L805.0,2280.0"/>
<path stroke-width="1.3" d="M380.0,2269.8 L553.0,2121.0 M405.0,2289.7 L558.0,2156.0 M430.0,2307.0 L568.0,2186.0 M455.0,2322.0 L583.0,2211.0 M480.0,2336.6 L603.0,2231.0 M510.0,2352.2 L623.0,2246.0 M537.5,2365.2 L648.0,2266.0 M570.0,2378.9 L678.0,2276.0 M595.0,2387.8 L708.0,2281.0 M625.0,2398.0 L743.0,2281.0 M652.5,2408.4 L778.0,2281.0 M685.0,2421.3 L808.0,2286.0"/>
</g>
<g fill="#111" stroke="none"><rect x="2202" y="112" width="3" height="3"/><rect x="2346" y="1314" width="3" height="3"/><rect x="2360" y="2210" width="2" height="2"/><rect x="2372" y="2214" width="2" height="2"/></g>
<g id="deckedge" stroke-width="2.5">
<path d="M798.7,1735.0 L760.8,1773.0 L722.8,1808.5 L668.5,1852.0 L627.4,1880.0 L556.0,1912.0 L519.0,1941.7 L494.3,1978.6 L477.0,2008.0 L464.7,2040.3 L457.3,2072.4 L450.0,2109.3 L442.5,2124.0 L420.3,2146.3 L383.3,2178.4 L346.3,2208.0 L316.7,2237.6 L305.6,2257.3 L294.5,2279.5"/>
<path d="M934.4,1755.6 L912.7,1770.5 L885.0,1793.0 L860.0,1821.7 L830.0,1845.0 L800.0,1866.0 L770.0,1887.0 L740.0,1907.0 L710.0,1926.0 L685.0,1942.0 L663.6,1960.0 L630.0,1983.6 L600.3,2018.0 L580.6,2052.6 L570.7,2089.6 L568.3,2126.6 L570.7,2151.0 L580.6,2176.0 L598.0,2200.0"/>
<path d="M950.7,1774.6 L920.0,1797.0 L890.0,1822.0 L860.0,1849.5 L830.0,1871.0 L800.0,1892.0 L770.0,1912.0 L740.0,1932.0 L706.0,1958.0 L680.0,1976.0 L660.0,1991.0 L617.6,2033.0 L605.0,2060.0 L600.7,2080.0 L598.0,2110.0 L598.0,2140.0 L601.0,2165.0"/>
</g>
<!-- GASKET 26 -->
<path d="M1339,306 L1430,311 Q1438,314 1436,322 L1352,413 L1256,404 Q1249,400 1253,392 Z"/>
<path d="M1343,314 L1419,320 Q1424,324 1420,329 L1347,403 L1265,396 Q1260,394 1264,390 Z"/>
<path d="M1343,314 L1343,325 L1410,331 M1343,325 L1274,394"/>
<path d="M1354,364 L1370,370 M1376,371 L1385,372" stroke-width="2"/>
</g>
<g class="t">
<text x="1244" y="343">26</text>
<text x="1996" y="512">25</text>
<text x="1055" y="717">12</text>
<text x="944" y="1016">11</text>
<text x="760" y="976">10</text>
<text x="1008" y="1220">9</text>
<text x="1788" y="808">33</text>
<text x="2099" y="843">32</text>
<text x="364" y="1988">5</text>
<text x="262" y="2293">8</text>
<text x="1085" y="1580">17</text>
<text x="1020" y="1672">19</text>
<text x="1780" y="1600">16</text>
<text x="1808" y="1740">18</text>
<text x="1735" y="1812">10</text>
<text x="1428" y="1808">15</text>
<text x="938" y="2610">22</text>
<text x="840" y="2719">4</text>
<text x="434" y="2738">1</text>
<text x="721" y="2968">3</text>
<text x="791" y="3065">2</text>
<text x="2008" y="2164">27</text>
<text x="1946" y="2391">28</text>
<text x="1655" y="2552">29</text>
<text x="1663" y="2608">30</text>
</g>
<text x="192" y="3161" style="font-family:'Liberation Sans',sans-serif;font-weight:bold;font-size:54px;letter-spacing:4.5px" fill="#111">548</text>
<text x="112" y="3196.5" textLength="246" lengthAdjust="spacingAndGlyphs" style="font-family:'Liberation Sans',sans-serif;font-weight:bold;font-size:25px" fill="#111">SPARE PARTS</text>
</svg>
</body></html>
